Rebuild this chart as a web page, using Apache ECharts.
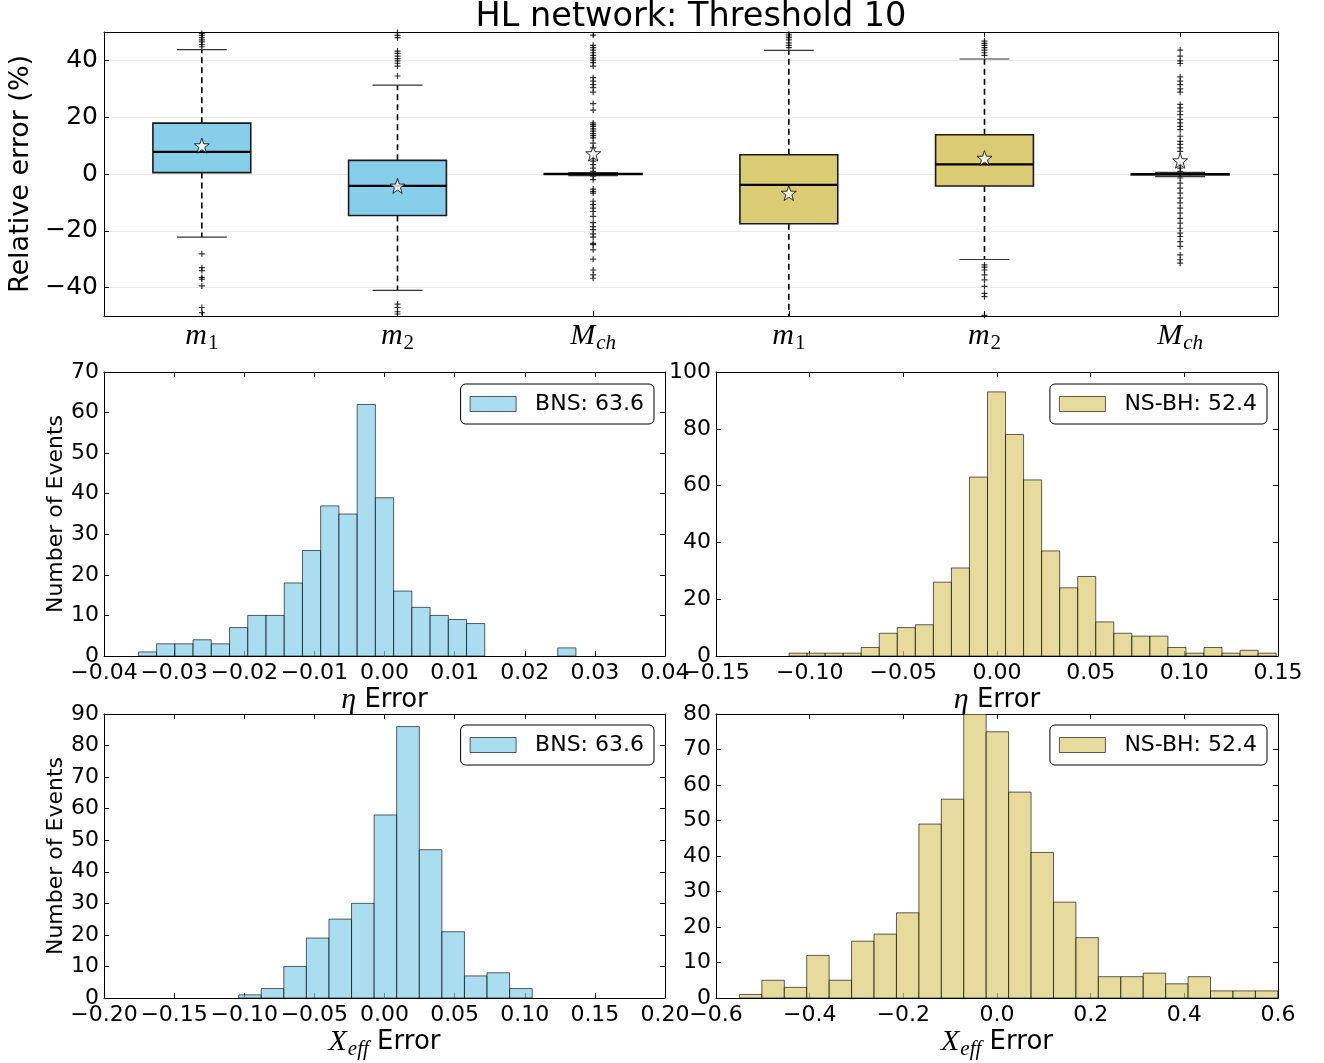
<!DOCTYPE html>
<html><head><meta charset="utf-8">
<script src="https://cdn.jsdelivr.net/npm/echarts@6/dist/echarts.min.js"></script>
<style>html,body{margin:0;padding:0;background:#fff}#c{width:1324px;height:1063px}</style>
</head><body><div id="c"></div>
<script>
// ---------- DATA ----------
const titleText = 'HL network: Threshold 10';
const categories = ['m_1', 'm_2', 'M_ch', 'm_1', 'm_2', 'M_ch'];
// [lower whisker, Q1, median, Q3, upper whisker]  (relative error %)
const boxBnsM1 = [-22.2, 0.5, 7.8, 17.9, 43.8];
const boxBnsM2 = [-41.0, -14.6, -4.2, 4.8, 31.3];
const boxBnsMch = [-0.6, -0.2, 0.0, 0.2, 0.5];
const boxNsbhM1 = [-60.0, -17.5, -3.8, 6.8, 43.5];
const boxNsbhM2 = [-30.1, -4.2, 3.4, 13.8, 40.5];
const boxNsbhMch = [-0.9, -0.3, 0.0, 0.1, 0.6];
const boxMeans = [10.0, -4.2, 7.2, -6.7, 5.6, 4.7];
const outBnsM1 = [49.5, 48.8, 48.0, 47.2, 46.5, 45.6, 44.8, -28.1, -33.0, -34.0, -36.4, -37.0, -39.4, -47.0, -48.8];
const outBnsM2 = [49.8, 48.8, 48.0, 43.3, 42.5, 41.5, 40.6, 39.8, 39.0, 38.0, 34.5, -45.8, -47.0, -48.5, -49.3];
const outBnsMch = [48.9, 45.3, 44.5, 43.6, 42.7, 41.8, 40.9, 40.1, 39.2, 38.0, 33.9, 32.7, 31.5, 30.4, 28.8, 24.8, 22.5,
  18.0, 17.4, 16.8, 15.9, 15.1, 14.2, 13.5, 12.7, 10.9, 9.2, 5.6, 4.5, 3.3, 2.1, 0.9, -0.8, -2.0, -5.3, -6.1, -6.7,
  -9.6, -10.8, -12.0, -13.2, -14.9, -17.1, -18.5, -19.6, -21.1, -22.2, -24.4, -24.9, -26.7, -30.0, -33.8, -35.5, -36.7];
const outNsbhM1 = [49.2, 48.6, 48.0, 47.2, 46.2, 45.3, 44.5];
const outNsbhM2 = [46.8, 46.0, 45.3, 44.5, 43.6, 42.7, 41.8, -32.0, -32.8, -33.8, -35.5, -37.3, -39.6, -42.0, -43.2, -49.8];
const outNsbhMch = [43.6, 41.5, 39.8, 38.9, 34.2, 32.7, 31.5, 30.0, 28.8, 24.5, 23.3, 22.1, 20.9, 19.2, 18.0, 16.8, 15.6,
  13.3, 11.5, 10.4, 9.2, 8.0, 3.3, 2.1, 0.9, -1.4, -3.2, -5.0, -6.7, -8.5, -10.2, -12.0, -13.8, -15.6, -17.3, -19.1,
  -20.8, -22.0, -23.8, -25.5, -28.5, -30.2, -31.4];

// histograms: first bin edge, bin width, counts
const etaBnsStart = -0.0351, etaBnsWidth = 0.0026;
const etaBnsCounts = [1, 3, 3, 4, 3, 7, 10, 10, 18, 26, 37, 35, 62, 39, 16, 12, 10, 9, 8, 0, 0, 0, 0, 2];
const etaNsbhStart = -0.111, etaNsbhWidth = 0.00963;
const etaNsbhCounts = [1, 1, 1, 1, 3, 8, 10, 11, 26, 31, 63, 93, 78, 62, 37, 24, 28, 12, 8, 7, 7, 3, 1, 3, 1, 2, 1];
const chiBnsStart = -0.104, chiBnsWidth = 0.0161;
const chiBnsCounts = [1, 3, 10, 19, 25, 30, 58, 86, 47, 21, 7, 8, 3];
const chiNsbhStart = -0.55, chiNsbhWidth = 0.0479;
const chiNsbhCounts = [1, 5, 3, 12, 5, 16, 18, 24, 49, 56, 80, 75, 58, 41, 27, 17, 6, 6, 7, 4, 6, 2, 2, 2];
const bnsLabel = 'BNS: 63.6';
const nsbhLabel = 'NS-BH: 52.4';

// ---------- STYLE ----------
const BLUE = '#87CEEB', GOLD = '#DBCB74';
const BLUE_A = 'rgba(135,206,235,0.7)', GOLD_A = 'rgba(219,203,116,0.7)';
const EDGE = 'rgba(0,0,0,0.62)';
const SANS = 'DejaVu Sans', SERIF = 'Liberation Serif';
const minus = s => String(s).replace('-', '\u2212');

const chart = echarts.init(document.getElementById('c'), null, {renderer: 'canvas'});

const grids = [
  {left: 104, top: 32, width: 1174, height: 284},
  {left: 104, top: 372, width: 561, height: 284},
  {left: 716, top: 372, width: 562, height: 284},
  {left: 104, top: 714, width: 561, height: 284},
  {left: 716, top: 714, width: 562, height: 284}
].map(g => Object.assign({outerBoundsMode: 'none', containLabel: false}, g));

const tickCommon = {show: true, inside: true, length: 5, lineStyle: {color: '#000', width: 1}};
const lineCommon = {show: true, onZero: false, lineStyle: {color: '#000', width: 1}};

const xAxes = [], yAxes = [];
// top boxplot axes
const catRich = {
  i: {fontFamily: SERIF, fontStyle: 'italic', fontSize: 30, color: '#000'},
  n: {fontFamily: SERIF, fontSize: 21, color: '#000', padding: [15, 0, 0, 1]},
  si: {fontFamily: SERIF, fontStyle: 'italic', fontSize: 21, color: '#000', padding: [15, 0, 0, 1]}
};
xAxes.push({type: 'category', gridIndex: 0, data: categories, position: 'bottom',
  axisLine: lineCommon, axisTick: Object.assign({alignWithLabel: true}, tickCommon),
  axisLabel: {margin: 2, formatter: v => { const p = v.split('_'); return '{i|' + p[0] + '}{' + (/\d/.test(p[1]) ? 'n' : 'si') + '|' + p[1] + '}'; }, rich: catRich},
  splitLine: {show: false}});
xAxes.push({type: 'category', gridIndex: 0, data: categories, position: 'top',
  axisLine: lineCommon, axisTick: Object.assign({alignWithLabel: true}, tickCommon),
  axisLabel: {show: false}, splitLine: {show: false}});
yAxes.push({type: 'value', gridIndex: 0, min: -50, max: 50, splitNumber: 5, position: 'left',
  name: 'Relative error (%)', nameLocation: 'middle', nameGap: 66,
  nameTextStyle: {fontFamily: SANS, fontSize: 27, color: '#000'},
  axisLine: lineCommon, axisTick: tickCommon,
  axisLabel: {fontFamily: SANS, fontSize: 25, color: '#000', margin: 6, showMinLabel: false, showMaxLabel: false,
    formatter: v => (Math.abs(v) === 50 ? '' : minus(v))},
  splitLine: {show: true, lineStyle: {color: '#ebebeb', width: 1}}});
yAxes.push({type: 'value', gridIndex: 0, min: -50, max: 50, splitNumber: 5, position: 'right',
  axisLine: lineCommon, axisTick: tickCommon, axisLabel: {show: false}, splitLine: {show: false}});

// histogram axes
const histDefs = [
  {g: 1, xmin: -0.04, xmax: 0.04, xint: 0.01, dec: 2, ymax: 70, yint: 10, xname: 'eta', yname: true},
  {g: 2, xmin: -0.15, xmax: 0.15, xint: 0.05, dec: 2, ymax: 100, yint: 20, xname: 'eta', yname: false},
  {g: 3, xmin: -0.2, xmax: 0.2, xint: 0.05, dec: 2, ymax: 90, yint: 10, xname: 'chi', yname: true},
  {g: 4, xmin: -0.6, xmax: 0.6, xint: 0.2, dec: 1, ymax: 80, yint: 10, xname: 'chi', yname: false}
];
const nameRich = {
  g: {fontFamily: SERIF, fontStyle: 'italic', fontSize: 30, color: '#000'},
  s: {fontFamily: SERIF, fontStyle: 'italic', fontSize: 21, color: '#000', padding: [15, 0, 0, 1]},
  t: {fontFamily: SANS, fontSize: 26, color: '#000'}
};
histDefs.forEach(d => {
  const fmt = v => { const s = (Math.abs(v) < 1e-9 ? 0 : v).toFixed(d.dec); return minus(s); };
  xAxes.push({type: 'value', gridIndex: d.g, min: d.xmin, max: d.xmax, interval: d.xint, position: 'bottom',
    name: d.xname === 'eta' ? '{g|\u03b7}{t| Error}' : '{g|X}{s|eff}{t| Error}',
    nameLocation: 'middle', nameGap: d.xname === 'eta' ? 27 : 24,
    nameTextStyle: {rich: nameRich},
    axisLine: lineCommon, axisTick: tickCommon,
    axisLabel: {fontFamily: SANS, fontSize: 22, color: '#000', margin: 6, showMinLabel: true, showMaxLabel: true, formatter: fmt},
    splitLine: {show: false}});
  xAxes.push({type: 'value', gridIndex: d.g, min: d.xmin, max: d.xmax, interval: d.xint, position: 'top',
    axisLine: lineCommon, axisTick: tickCommon, axisLabel: {show: false}, splitLine: {show: false}});
  yAxes.push({type: 'value', gridIndex: d.g, min: 0, max: d.ymax, interval: d.yint, position: 'left',
    name: d.yname ? 'Number of Events' : '', nameLocation: 'middle', nameGap: 37,
    nameTextStyle: {fontFamily: SANS, fontSize: 22, color: '#000'},
    axisLine: lineCommon, axisTick: tickCommon,
    axisLabel: {fontFamily: SANS, fontSize: 22, color: '#000', margin: 5, showMinLabel: true, showMaxLabel: true},
    splitLine: {show: false}});
  yAxes.push({type: 'value', gridIndex: d.g, min: 0, max: d.ymax, interval: d.yint, position: 'right',
    axisLine: lineCommon, axisTick: tickCommon, axisLabel: {show: false}, splitLine: {show: false}});
});

// ---------- SERIES ----------
const boxes = [boxBnsM1, boxBnsM2, boxBnsMch, boxNsbhM1, boxNsbhM2, boxNsbhMch];
const outs = [outBnsM1, outBnsM2, outBnsMch, outNsbhM1, outNsbhM2, outNsbhMch];
const boxData = boxes.map((b, i) => [i].concat(b));
const outData = [];
outs.forEach((arr, i) => arr.forEach(v => outData.push([i, v])));
const meanData = boxMeans.map((v, i) => [i, v]);

const series = [];
series.push({
  type: 'custom', name: 'box', xAxisIndex: 0, yAxisIndex: 0, clip: true, z: 2,
  encode: {x: 0, y: [1, 2, 3, 4, 5]},
  data: boxData,
  renderItem: (params, api) => {
    const i = api.value(0);
    const cw = api.size([1, 0])[0];
    const bw = cw * 0.5, capw = cw * 0.255;
    const lo = api.coord([i, api.value(1)]), q1 = api.coord([i, api.value(2)]),
      md = api.coord([i, api.value(3)]), q3 = api.coord([i, api.value(4)]), hi = api.coord([i, api.value(5)]);
    const x = q1[0];
    const fill = i < 3 ? BLUE : GOLD;
    const dash = {stroke: '#000', lineWidth: 1.6, lineDash: [6, 4]};
    const cap = {stroke: '#333', lineWidth: 1.2};
    return {type: 'group', children: [
      {type: 'line', shape: {x1: x, y1: q3[1], x2: x, y2: hi[1]}, style: dash},
      {type: 'line', shape: {x1: x, y1: q1[1], x2: x, y2: lo[1]}, style: dash},
      {type: 'line', shape: {x1: x - capw / 2, y1: hi[1], x2: x + capw / 2, y2: hi[1]}, style: cap},
      {type: 'line', shape: {x1: x - capw / 2, y1: lo[1], x2: x + capw / 2, y2: lo[1]}, style: cap},
      {type: 'rect', shape: {x: x - bw / 2, y: q3[1], width: bw, height: q1[1] - q3[1]}, style: {fill: fill, stroke: '#1a1a1a', lineWidth: 1.6}},
      {type: 'line', shape: {x1: x - bw / 2, y1: md[1], x2: x + bw / 2, y2: md[1]}, style: {stroke: '#000', lineWidth: 2.2}}
    ]};
  }
});
series.push({
  type: 'scatter', name: 'outliers', xAxisIndex: 0, yAxisIndex: 0, z: 3, clip: true,
  symbol: 'path://M0,5L10,5M5,0L5,10', symbolSize: 6,
  itemStyle: {color: 'rgba(0,0,0,0)', borderColor: '#000', borderWidth: 1.2},
  data: outData, silent: true
});
series.push({
  type: 'scatter', name: 'means', xAxisIndex: 0, yAxisIndex: 0, z: 4,
  symbol: 'path://M0,-10L2.35,-3.24L9.51,-3.09L3.8,1.24L5.88,8.09L0,4L-5.88,8.09L-3.8,1.24L-9.51,-3.09L-2.35,-3.24Z',
  symbolSize: 15,
  itemStyle: {color: '#fff', borderColor: '#000', borderWidth: 1},
  data: meanData, silent: true
});

function histSeries(name, axisIdx, start, width, counts, fill) {
  const data = counts.map((c, k) => [start + k * width, start + (k + 1) * width, c]);
  return {
    type: 'custom', name: name, xAxisIndex: axisIdx, yAxisIndex: axisIdx, clip: true,
    encode: {x: [0, 1], y: 2},
    itemStyle: {color: fill, borderColor: EDGE, borderWidth: 1},
    data: data,
    renderItem: (params, api) => {
      if (api.value(2) <= 0) return null;
      const p0 = api.coord([api.value(0), 0]);
      const p1 = api.coord([api.value(1), api.value(2)]);
      return {type: 'rect', shape: {x: p0[0], y: p1[1], width: p1[0] - p0[0], height: p0[1] - p1[1]},
        style: {fill: fill, stroke: EDGE, lineWidth: 1}};
    }
  };
}
series.push(histSeries(bnsLabel, 2, etaBnsStart, etaBnsWidth, etaBnsCounts, BLUE_A));
series.push(histSeries(nsbhLabel, 4, etaNsbhStart, etaNsbhWidth, etaNsbhCounts, GOLD_A));
series.push(histSeries(bnsLabel, 6, chiBnsStart, chiBnsWidth, chiBnsCounts, BLUE_A));
series.push(histSeries(nsbhLabel, 8, chiNsbhStart, chiNsbhWidth, chiNsbhCounts, GOLD_A));

function legendAt(name, right, top, fill) {
  return {
    data: [{name: name, itemStyle: {color: fill, borderColor: EDGE, borderWidth: 1}}],
    right: right, top: top, orient: 'horizontal', icon: 'rect',
    itemWidth: 46, itemHeight: 15, selectedMode: false,
    backgroundColor: '#fff', borderColor: '#000', borderWidth: 1, borderRadius: 5,
    padding: [9, 10, 9, 9],
    textStyle: {fontFamily: SANS, fontSize: 22, color: '#000', padding: [0, 0, 0, 14]}
  };
}

chart.setOption({
  backgroundColor: '#fff',
  animation: false,
  grid: grids,
  xAxis: xAxes,
  yAxis: yAxes,
  legend: [
    legendAt(bnsLabel, 670, 384, BLUE_A),
    legendAt(nsbhLabel, 57, 384, GOLD_A),
    legendAt(bnsLabel, 670, 725, BLUE_A),
    legendAt(nsbhLabel, 57, 725, GOLD_A)
  ],
  graphic: [{type: 'text', x: 691, y: 17, silent: true,
    style: {text: titleText, fontFamily: SANS, fontSize: 33.5, fill: '#000', align: 'center', verticalAlign: 'middle'}}],
  series: series
});
</script></body></html>
